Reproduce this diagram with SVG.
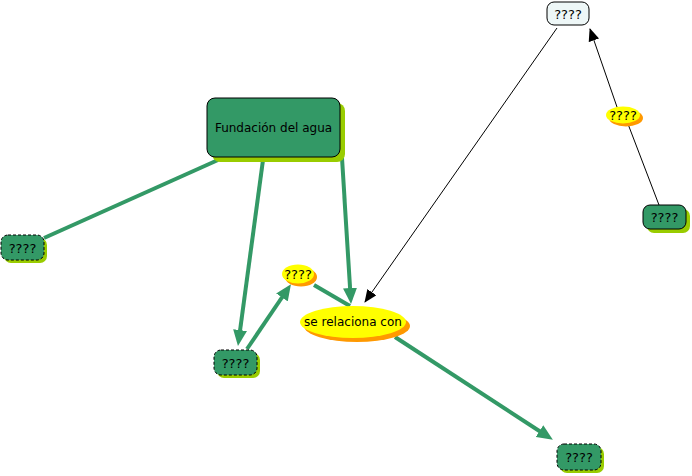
<svg xmlns="http://www.w3.org/2000/svg" width="692" height="476" viewBox="0 0 692 476">
<style>
.bg{fill:#ffffff}
.node{fill:#339966;stroke:#000000;stroke-width:1}
.dash{stroke-dasharray:3,2}
.sh{fill:#99cc00}
.ell{fill:#ffff00}
.esh{fill:#ff9900}
.top{fill:#eef7f7;stroke:#000000;stroke-width:1}
.t{font-family:"DejaVu Sans",Verdana,sans-serif;font-size:12px;fill:#000000;text-anchor:middle;dominant-baseline:central}
.q{font-size:13px}
.g{stroke:#339966;stroke-width:4;fill:none}
.k{stroke:#000000;stroke-width:1;fill:none}
</style>
<defs>
<marker id="ag" markerUnits="userSpaceOnUse" markerWidth="16" markerHeight="14" refX="9" refY="7" orient="auto" viewBox="0 0 16 14">
<path d="M0,0 L16,7 L0,14 z" fill="#339966"/>
</marker>
<marker id="ak" markerUnits="userSpaceOnUse" markerWidth="13" markerHeight="11" refX="12" refY="5.5" orient="auto" viewBox="0 0 13 11">
<path d="M0,0 L13,5.5 L0,11 z" fill="#000000"/>
</marker>
</defs>
<rect class="bg" x="0" y="0" width="692" height="476"/>
<g id="connectors">
<line class="g" x1="218" y1="160" x2="44" y2="238"/>
<line class="g" x1="263" y1="160" x2="238.9" y2="339" marker-end="url(#ag)"/>
<line class="g" x1="342" y1="158" x2="350.6" y2="297" marker-end="url(#ag)"/>
<line class="g" x1="247" y1="349" x2="287" y2="290" marker-end="url(#ag)"/>
<line class="g" x1="314" y1="285" x2="350" y2="306"/>
<line class="g" x1="395" y1="337" x2="547" y2="436" marker-end="url(#ag)"/>
<line class="k" x1="557" y1="28" x2="365" y2="302" marker-end="url(#ak)"/>
<line class="k" x1="659" y1="205" x2="628" y2="124"/>
<line class="k" x1="617" y1="107" x2="590" y2="29" marker-end="url(#ak)"/>
</g>
<g id="n-fundacion">
<rect class="sh" x="212" y="103" width="133" height="59" rx="8"/>
<rect class="node" x="207" y="98" width="133" height="59" rx="8"/>
<text class="t" x="273.5" y="128">Fundación del agua</text>
</g>
<g id="n-left">
<rect class="sh" x="4" y="238" width="43" height="25" rx="7"/>
<rect class="node dash" x="1" y="235" width="43" height="25" rx="7"/>
<text class="t q" x="22.5" y="248">????</text>
</g>
<g id="n-mid">
<rect class="sh" x="217" y="353" width="43" height="25" rx="7"/>
<rect class="node dash" x="214" y="350" width="43" height="25" rx="7"/>
<text class="t q" x="235.5" y="363">????</text>
</g>
<g id="n-bottomright">
<rect class="sh" x="560" y="447" width="44" height="26" rx="7"/>
<rect class="node dash" x="557" y="444" width="44" height="26" rx="7"/>
<text class="t q" x="579" y="457.5">????</text>
</g>
<g id="n-right">
<rect class="sh" x="647" y="209" width="43" height="24" rx="7"/>
<rect class="node" x="643" y="205" width="43" height="24" rx="7"/>
<text class="t q" x="664.5" y="217.5">????</text>
</g>
<g id="n-top">
<rect class="top" x="547" y="2" width="42" height="23" rx="7"/>
<text class="t q" x="568" y="14">????</text>
</g>
<g id="e-small">
<ellipse class="esh" cx="301" cy="277" rx="16" ry="9.5"/>
<ellipse class="ell" cx="298" cy="274" rx="16" ry="9.5"/>
<text class="t q" x="298" y="274">????</text>
</g>
<g id="e-relaciona">
<ellipse class="esh" cx="357" cy="326" rx="53" ry="16"/>
<ellipse class="ell" cx="353" cy="322" rx="53" ry="16"/>
<text class="t" x="353" y="322">se relaciona con</text>
</g>
<g id="e-right">
<ellipse class="esh" cx="626" cy="118" rx="17" ry="8.5"/>
<ellipse class="ell" cx="623" cy="115" rx="17" ry="8.5"/>
<text class="t q" x="623" y="115">????</text>
</g>
</svg>
